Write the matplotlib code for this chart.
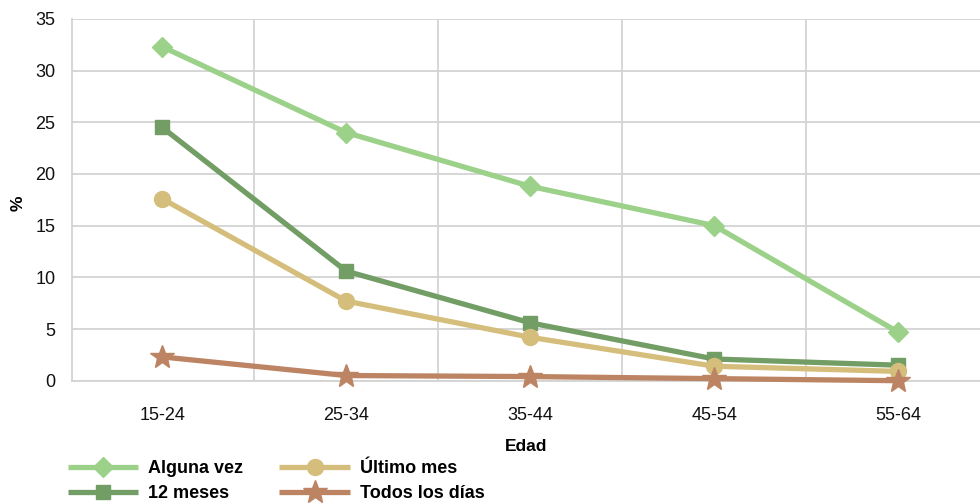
import matplotlib
matplotlib.use("Agg")
import matplotlib.pyplot as plt
from matplotlib.ticker import FixedLocator, MultipleLocator

plt.rcParams["font.family"] = ["Liberation Sans", "DejaVu Sans"]

# Edad / consumo (%)
edades = ["15-24", "25-34", "35-44", "45-54", "55-64"]
alguna_vez = [32.3, 24.0, 18.8, 15.0, 4.7]
doce_meses = [24.5, 10.6, 5.6, 2.1, 1.5]
ultimo_mes = [17.6, 7.7, 4.2, 1.4, 0.9]
todos_dias = [2.3, 0.5, 0.4, 0.2, 0.0]

series = [
    ("Alguna vez", alguna_vez, "#9CD18A", "D", 10.5),
    ("12 meses", doce_meses, "#729D65", "s", 10),
    ("Último mes", ultimo_mes, "#D5BE7B", "o", 11.5),
    ("Todos los días", todos_dias, "#BD8464", "*", 18),
]

fig = plt.figure(figsize=(9.8, 5.03), dpi=100)
ax = fig.add_axes([72 / 980, 1 - 380.7 / 503, 908 / 980, (380.7 - 18.8) / 503])

x = list(range(len(edades)))
for name, vals, col, mk, ms in series:
    ax.plot(x, vals, color=col, lw=3.8, marker=mk, markersize=ms,
            markerfacecolor=col, markeredgecolor=col, label=name, zorder=3,
            solid_capstyle="butt", clip_on=False)

ax.set_xlim(-0.49, 4.445)
ax.set_ylim(0, 35)
ax.yaxis.set_major_locator(MultipleLocator(5))
ax.set_xticks(x)
ax.set_xticklabels(edades)
ax.xaxis.set_minor_locator(FixedLocator([0.5, 1.5, 2.5, 3.5]))

ax.grid(axis="y", which="major", color="#D3D3D3", lw=1.3, zorder=0)
ax.grid(axis="x", which="minor", color="#D3D3D3", lw=1.3, zorder=0)
ax.grid(axis="x", which="major", visible=False)

for s in ["top", "right"]:
    ax.spines[s].set_visible(False)
for s in ["left", "bottom"]:
    ax.spines[s].set_color("#D3D3D3")
    ax.spines[s].set_linewidth(1.3)

ax.tick_params(axis="both", which="both", length=0, labelsize=13, colors="#111111")
ax.tick_params(axis="y", pad=12)
ax.tick_params(axis="x", pad=19)

ax.set_ylabel("%", fontsize=12.5, fontweight="bold")
ax.yaxis.set_label_coords(-46 / 908, 0.49)
ax.set_xlabel("Edad", fontsize=12.5, fontweight="bold", labelpad=11)

fig.legend(loc="upper left", bbox_to_anchor=(68 / 980, 1 - 460 / 503), ncol=2,
           frameon=False, prop={"weight": "bold", "size": 13},
           handlelength=3.9, handletextpad=0.55, columnspacing=2.0,
           labelspacing=0.45, borderaxespad=0, borderpad=0)

fig.savefig("out.png", dpi=100, facecolor="white")
